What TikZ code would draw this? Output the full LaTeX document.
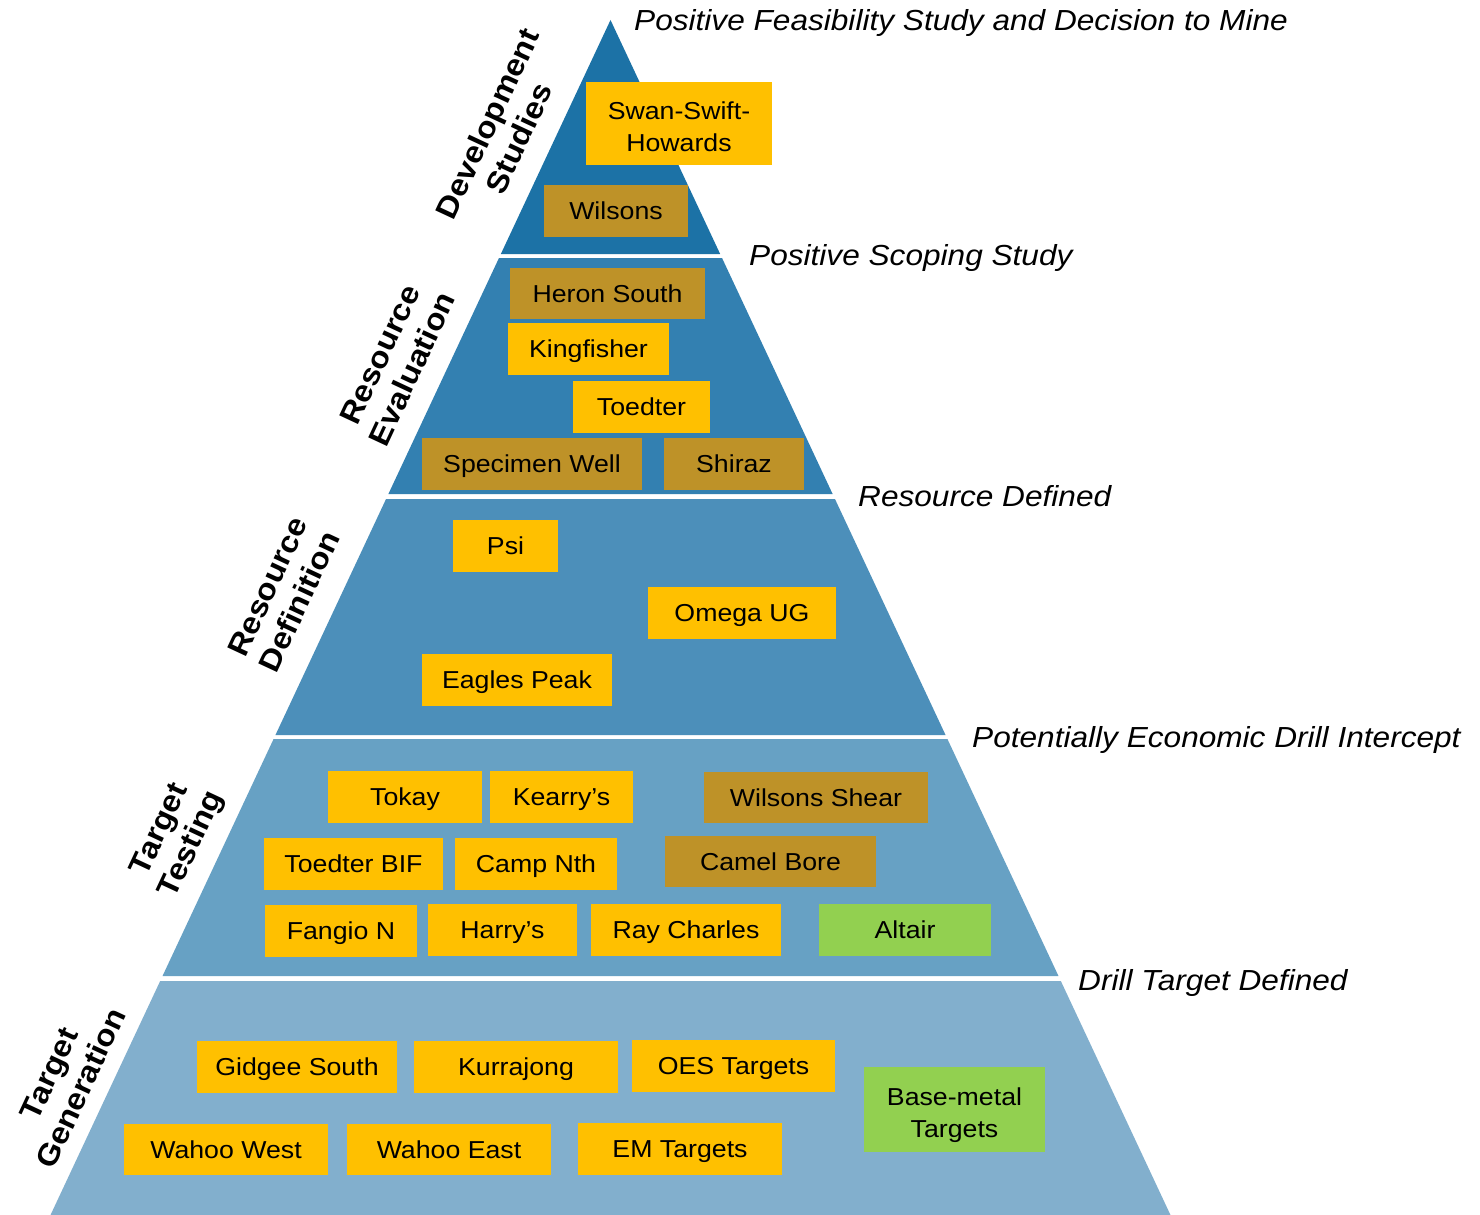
\documentclass[tikz,border=0pt]{standalone}
\usepackage{fontspec}
\setmainfont{Liberation Sans}[FakeStretch=1.09]
\definecolor{bandA}{RGB}{28,114,166}
\definecolor{bandB}{RGB}{51,128,177}
\definecolor{bandC}{RGB}{76,143,186}
\definecolor{bandD}{RGB}{103,161,196}
\definecolor{bandE}{RGB}{130,175,205}
\definecolor{boxyellow}{RGB}{255,192,0}
\definecolor{boxgold}{RGB}{190,146,40}
\definecolor{boxgreen}{RGB}{146,208,80}
\tikzset{
  bx/.style={inner sep=0pt, minimum height=52pt, font=\fontsize{24.5}{32}\selectfont, text=black, text height=17.6pt, text depth=0pt},
  yl/.style={bx, fill=boxyellow},
  gd/.style={bx, fill=boxgold},
  gr/.style={bx, fill=boxgreen},
  two/.style={align=center, text height=, text depth=},
  rotlab/.style={rotate=65, align=center, inner sep=0pt, font=\bfseries\fontsize{30}{35}\selectfont},
  stage/.style={anchor=base west, inner sep=0pt, font=\itshape\fontsize{29}{34}\selectfont}
}
\begin{document}
\begin{tikzpicture}[x=1pt,y=-1pt]
\useasboundingbox (0,0) rectangle (1480,1215);
\fill[white] (0,0) rectangle (1480,1215);
% pyramid bands
\fill[bandA] (610.5,20) -- (500.85,254) -- (720.15,254) -- cycle;
\fill[bandB] (498.97,258) -- (722.03,258) -- (832.62,494) -- (388.38,494) -- cycle;
\fill[bandC] (386.04,499) -- (834.96,499) -- (945.55,735) -- (275.45,735) -- cycle;
\fill[bandD] (273.58,739) -- (947.42,739) -- (1058.48,976) -- (162.52,976) -- cycle;
\fill[bandE] (160.18,981) -- (1060.82,981) -- (1170.48,1215) -- (50.52,1215) -- cycle;
% stage labels
\node[stage] (s1) at (634,30.5) {Positive Feasibility Study and Decision to Mine};
\node[stage] (s2) at (749,265) {Positive Scoping Study};
\node[stage] (s3) at (858,506.5) {Resource Defined};
\node[stage] (s4) at (972,747) {Potentially Economic Drill Intercept};
\node[stage] (s5) at (1078,990) {Drill Target Defined};
% rotated phase labels
\node[rotlab] (p1) at (503,131) {Development\\Studies};
\node[rotlab] (p2) at (396,362) {Resource\\Evaluation};
\node[rotlab] (p3) at (283.6,594) {Resource\\Definition};
\node[rotlab] (p4) at (176.7,837.5) {Target\\Testing};
\node[rotlab] (p5) at (65,1081) {Target\\Generation};
% boxes
\node[yl,two,minimum width=186pt,minimum height=83pt] (swan) at (679,123.5) {\rule{0pt}{24pt}Swan-Swift-\\Howards};
\node[gd,minimum width=144pt] (wilsons) at (616,211) {Wilsons};
\node[gd,minimum width=195pt,minimum height=51pt] (heron) at (607.5,293.5) {Heron South};
\node[yl,minimum width=161pt] (kingfisher) at (588.5,349) {Kingfisher};
\node[yl,minimum width=137pt] (toedter) at (641.5,407) {Toedter};
\node[gd,minimum width=220pt] (specimen) at (532,464) {Specimen Well};
\node[gd,minimum width=140pt] (shiraz) at (734,464) {Shiraz};
\node[yl,minimum width=105pt] (psi) at (505.5,546) {Psi};
\node[yl,minimum width=188pt] (omega) at (742,613) {Omega UG};
\node[yl,minimum width=190pt] (eagles) at (517,680) {Eagles Peak};
\node[yl,minimum width=154pt] (tokay) at (405,797) {Tokay};
\node[yl,minimum width=143pt] (kearry) at (561.5,797) {Kearry’s};
\node[gd,minimum width=224pt,minimum height=51pt] (wshear) at (816,797.5) {Wilsons Shear};
\node[yl,minimum width=179pt] (toedterbif) at (353.5,864) {Toedter BIF};
\node[yl,minimum width=162pt] (campnth) at (536,864) {Camp Nth};
\node[gd,minimum width=211pt,minimum height=51pt] (camel) at (770.5,861.5) {Camel Bore};
\node[yl,minimum width=152pt] (fangio) at (341,931) {Fangio N};
\node[yl,minimum width=149pt] (harry) at (502.5,930) {Harry’s};
\node[yl,minimum width=190pt] (ray) at (686,930) {Ray Charles};
\node[gr,minimum width=172pt] (altair) at (905,930) {Altair};
\node[yl,minimum width=200pt] (gidgee) at (297,1067) {Gidgee South};
\node[yl,minimum width=204pt] (kurrajong) at (516,1067) {Kurrajong};
\node[yl,minimum width=203pt] (oes) at (733.5,1066) {OES Targets};
\node[gr,two,minimum width=181pt,minimum height=85pt] (basemetal) at (954.5,1109.5) {\rule{0pt}{30pt}Base-metal\\Targets};
\node[yl,minimum width=204pt,minimum height=51pt] (wwest) at (226,1149.5) {Wahoo West};
\node[yl,minimum width=204pt,minimum height=51pt] (weast) at (449,1149.5) {Wahoo East};
\node[yl,minimum width=204pt] (em) at (680,1149) {EM Targets};
\end{tikzpicture}
\end{document}
